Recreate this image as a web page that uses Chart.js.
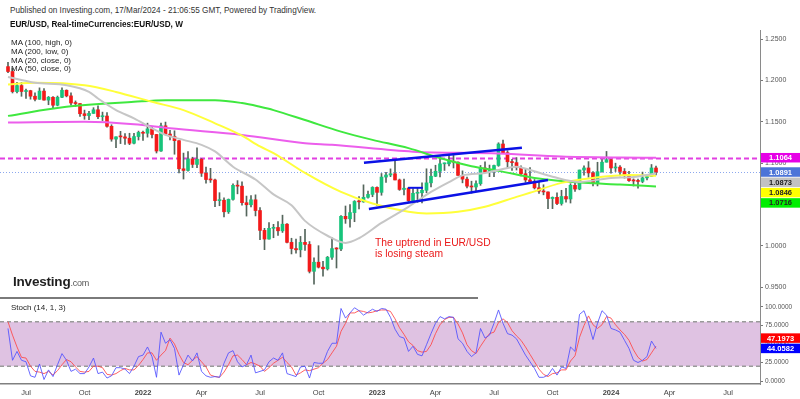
<!DOCTYPE html>
<html lang="en">
<head>
<meta charset="utf-8">
<title>EUR/USD weekly</title>
<script src="https://cdn.jsdelivr.net/npm/chart.js@4.4.1/dist/chart.umd.min.js"></script>
<style>
  html, body { margin: 0; padding: 0; background: #fff; }
  body { font-family: "Liberation Sans", Arial, sans-serif; }
  #page { position: relative; width: 800px; height: 399px; overflow: hidden; }
  canvas { position: absolute; left: 0; }
  #priceChart { top: 30px; }
  #stochChart { top: 298px; }
  .label { position: absolute; white-space: nowrap; z-index: 5; line-height: 1; color: #222; }
  .legend { font-size: 8px; line-height: 8.8px; }
  .note { font-size: 10.3px; line-height: 11px; color: #ea1a1a; }
  #divider { position: absolute; left: 0; top: 297px; width: 478px; height: 2px; background: #7a7a7a; z-index: 4; }
</style>
</head>
<body>
<div id="page">
  <canvas id="priceChart" width="800" height="268"></canvas>
  <canvas id="stochChart" width="800" height="101"></canvas>
  <div id="divider"></div>

  <div class="label" style="left:10px; top:7px; font-size:8.2px; color:#333;">Published on Investing.com, 17/Mar/2024 - 21:06:55 GMT, Powered by TradingView.</div>
  <div class="label" style="left:10px; top:20.5px; font-size:8.2px; font-weight:bold; color:#111;">EUR/USD, Real-timeCurrencies:EUR/USD, W</div>
  <div class="label legend" style="left:11px; top:39px;">MA (100, high, 0)<br>MA (200, low, 0)<br>MA (20, close, 0)<br>MA (50, close, 0)</div>
  <div class="label note" style="left:375px; top:236.5px;">The uptrend in EUR/USD<br>is losing steam</div>
  <div class="label" style="left:13px; top:275px; font-size:13.5px; font-weight:bold; color:#1e1e1e; letter-spacing:-0.2px;">Investing<span style="font-size:9px; font-weight:normal; color:#555;">.com</span></div>
  <div class="label" style="left:11px; top:304px; font-size:8px;">Stoch (14, 1, 3)</div>
</div>

<script>
// ============================= data (weekly candles, week 0 = 7 Jun 2021)

const firstWeek = '2021-06-07';

const open = [
  1.2166, 1.2107, 1.1864, 1.1937, 1.1865, 1.1875, 1.1808, 1.1771, 1.1870, 1.1761,
  1.1795, 1.1699, 1.1795, 1.1880, 1.1812, 1.1726, 1.1719, 1.1596, 1.1574, 1.1600,
  1.1644, 1.1560, 1.1568, 1.1444, 1.1289, 1.1317, 1.1316, 1.1300, 1.1239, 1.1320,
  1.1370, 1.1360, 1.1413, 1.1345, 1.1145, 1.1450, 1.1350, 1.1320, 1.1270, 1.0930,
  1.0910, 1.1050, 1.0983, 1.1046, 1.0877, 1.0800, 1.0795, 1.0545, 1.0550, 1.0410,
  1.0560, 1.0730, 1.0720, 1.0520, 1.0495, 1.0555, 1.0425, 1.0185, 1.0080, 1.0210,
  1.0220, 1.0180, 1.0260, 1.0040, 0.9965, 0.9950, 1.0040, 1.0015, 0.9690, 0.9800,
  0.9740, 0.9720, 0.9860, 0.9965, 0.9960, 1.0355, 1.0325, 1.0400, 1.0535, 1.0530,
  1.0585, 1.0620, 1.0705, 1.0645, 1.0830, 1.0855, 1.0870, 1.0795, 1.0680, 1.0695,
  1.0545, 1.0634, 1.0640, 1.0670, 1.0760, 1.0840, 1.0900, 1.0990, 1.0990, 1.1020,
  1.1010, 1.0850, 1.0805, 1.0720, 1.0710, 1.0750, 1.0940, 1.0890, 1.0910, 1.0970,
  1.1230, 1.1125, 1.1015, 1.1005, 1.0945, 1.0870, 1.0795, 1.0775, 1.0700, 1.0660,
  1.0650, 1.0570, 1.0585, 1.0510, 1.0595, 1.0565, 1.0730, 1.0685, 1.0915, 1.0940,
  1.0880, 1.0760, 1.0895, 1.1010, 1.1040, 1.0940, 1.0950, 1.0898, 1.0855, 1.0787,
  1.0783, 1.0777, 1.0820, 1.0838, 1.0940
];
const high = [
  1.2218, 1.2145, 1.1975, 1.1975, 1.1895, 1.1880, 1.1850, 1.1909, 1.1900, 1.1805,
  1.1805, 1.1810, 1.1909, 1.1885, 1.1850, 1.1751, 1.1720, 1.1640, 1.1624, 1.1669,
  1.1692, 1.1616, 1.1609, 1.1463, 1.1318, 1.1383, 1.1355, 1.1360, 1.1360, 1.1386,
  1.1385, 1.1482, 1.1436, 1.1347, 1.1483, 1.1495, 1.1395, 1.1390, 1.1272, 1.1120,
  1.1137, 1.1070, 1.1185, 1.1054, 1.0950, 1.0936, 1.0805, 1.0641, 1.0580, 1.0565,
  1.0748, 1.0787, 1.0773, 1.0600, 1.0606, 1.0615, 1.0460, 1.0210, 1.0278, 1.0258,
  1.0293, 1.0369, 1.0268, 1.0090, 1.0080, 1.0112, 1.0198, 1.0050, 0.9854, 1.0000,
  0.9810, 0.9870, 1.0094, 0.9976, 1.0365, 1.0480, 1.0497, 1.0545, 1.0595, 1.0736,
  1.0660, 1.0713, 1.0713, 1.0873, 1.0887, 1.0929, 1.1033, 1.0806, 1.0805, 1.0705,
  1.0692, 1.0700, 1.0760, 1.0930, 1.0926, 1.0973, 1.1076, 1.1000, 1.1095, 1.1092,
  1.1015, 1.0905, 1.0830, 1.0780, 1.0785, 1.0970, 1.1013, 1.0975, 1.0975, 1.1245,
  1.1276, 1.1149, 1.1045, 1.1065, 1.0965, 1.0930, 1.0945, 1.0800, 1.0770, 1.0737,
  1.0650, 1.0590, 1.0640, 1.0670, 1.0695, 1.0750, 1.0755, 1.0915, 1.0965, 1.1017,
  1.0895, 1.1009, 1.1040, 1.1140, 1.1045, 1.0998, 1.0970, 1.0933, 1.0898, 1.0808,
  1.0805, 1.0890, 1.0860, 1.0982, 1.0963
];
const low = [
  1.2093, 1.1847, 1.1848, 1.1807, 1.1782, 1.1772, 1.1752, 1.1770, 1.1760, 1.1705,
  1.1664, 1.1691, 1.1790, 1.1800, 1.1700, 1.1684, 1.1563, 1.1529, 1.1524, 1.1600,
  1.1535, 1.1513, 1.1432, 1.1263, 1.1186, 1.1235, 1.1226, 1.1222, 1.1230, 1.1278,
  1.1272, 1.1313, 1.1302, 1.1121, 1.1140, 1.1340, 1.1280, 1.1106, 1.0880, 1.0806,
  1.0900, 1.0945, 1.0945, 1.0837, 1.0757, 1.0765, 1.0472, 1.0483, 1.0349, 1.0390,
  1.0550, 1.0627, 1.0490, 1.0358, 1.0470, 1.0360, 1.0072, 0.9952, 1.0080, 1.0096,
  1.0123, 1.0160, 1.0034, 0.9900, 0.9910, 0.9864, 0.9944, 0.9670, 0.9535, 0.9730,
  0.9630, 0.9705, 0.9835, 0.9730, 0.9940, 1.0270, 1.0225, 1.0290, 1.0444, 1.0525,
  1.0575, 1.0592, 1.0483, 1.0610, 1.0766, 1.0835, 1.0794, 1.0669, 1.0613, 1.0533,
  1.0532, 1.0524, 1.0516, 1.0640, 1.0710, 1.0835, 1.0831, 1.0910, 1.0965, 1.0940,
  1.0850, 1.0760, 1.0700, 1.0635, 1.0665, 1.0730, 1.0890, 1.0835, 1.0835, 1.0960,
  1.1123, 1.0944, 1.0911, 1.0915, 1.0845, 1.0766, 1.0775, 1.0686, 1.0632, 1.0615,
  1.0448, 1.0448, 1.0495, 1.0490, 1.0525, 1.0516, 1.0655, 1.0676, 1.0852, 1.0828,
  1.0723, 1.0723, 1.0888, 1.1010, 1.0877, 1.0897, 1.0844, 1.0817, 1.0778, 1.0722,
  1.0695, 1.0761, 1.0796, 1.0835, 1.0855
];
const close = [
  1.2107, 1.1864, 1.1937, 1.1865, 1.1875, 1.1808, 1.1771, 1.1870, 1.1761, 1.1795,
  1.1699, 1.1795, 1.1880, 1.1812, 1.1726, 1.1719, 1.1596, 1.1574, 1.1600, 1.1644,
  1.1560, 1.1568, 1.1444, 1.1289, 1.1317, 1.1316, 1.1300, 1.1239, 1.1320, 1.1370,
  1.1360, 1.1413, 1.1345, 1.1145, 1.1450, 1.1350, 1.1320, 1.1270, 1.0930, 1.0910,
  1.1050, 1.0983, 1.1046, 1.0877, 1.0800, 1.0795, 1.0545, 1.0550, 1.0410, 1.0560,
  1.0730, 1.0720, 1.0520, 1.0495, 1.0555, 1.0425, 1.0185, 1.0080, 1.0210, 1.0220,
  1.0180, 1.0260, 1.0040, 0.9965, 0.9950, 1.0040, 1.0015, 0.9690, 0.9800, 0.9740,
  0.9720, 0.9860, 0.9965, 0.9960, 1.0355, 1.0325, 1.0400, 1.0535, 1.0530, 1.0585,
  1.0620, 1.0705, 1.0645, 1.0830, 1.0855, 1.0870, 1.0795, 1.0680, 1.0695, 1.0545,
  1.0634, 1.0640, 1.0670, 1.0760, 1.0840, 1.0900, 1.0990, 1.0990, 1.1020, 1.1010,
  1.0850, 1.0805, 1.0720, 1.0710, 1.0750, 1.0940, 1.0890, 1.0910, 1.0970, 1.1230,
  1.1125, 1.1015, 1.1005, 1.0945, 1.0870, 1.0795, 1.0775, 1.0700, 1.0660, 1.0650,
  1.0570, 1.0585, 1.0510, 1.0595, 1.0565, 1.0730, 1.0685, 1.0915, 1.0940, 1.0880,
  1.0760, 1.0895, 1.1010, 1.1040, 1.0940, 1.0950, 1.0898, 1.0855, 1.0787, 1.0783,
  1.0777, 1.0820, 1.0838, 1.0940, 1.0891
];

// moving averages as [week, value]
const ma20 = [[0,1.2040],[6,1.1970],[13,1.1940],[18,1.1860],[20,1.1780],[24,1.1640],[28,1.1540],
  [32,1.1420],[35,1.1340],[39,1.1280],[43,1.1220],[46,1.1140],[50,1.0955],[55,1.0800],[59,1.0620],
  [63,1.0490],[66,1.0300],[71,1.0120],[75,1.0033],[78,1.0090],[83,1.0275],[89,1.0470],[94,1.0650],
  [98,1.0770],[101,1.0850],[106,1.0880],[109,1.0915],[113,1.0955],[116,1.0915],[121,1.0834],
  [127,1.0770],[134,1.0820],[139,1.0830],[144,1.0873]];
const ma50 = [[0,1.1950],[6,1.1970],[17,1.1940],[24,1.1860],[32,1.1740],[39,1.1640],[46,1.1480],
  [52,1.1330],[56,1.1200],[59,1.1120],[66,1.0880],[74,1.0650],[81,1.0510],[89,1.0410],[93,1.0390],
  [100,1.0410],[106,1.0470],[113,1.0590],[116,1.0640],[123,1.0760],[130,1.0820],[138,1.0855],[144,1.0846]];
const ma100 = [[0,1.1570],[13,1.1680],[28,1.1740],[35,1.1760],[46,1.1760],[52,1.1725],[56,1.1680],
  [59,1.1640],[66,1.1520],[74,1.1380],[81,1.1280],[89,1.1180],[96,1.1060],[103,1.0960],[109,1.0905],
  [117,1.0820],[128,1.0760],[136,1.0740],[144,1.0716]];
const ma200 = [[0,1.1490],[17,1.1500],[28,1.1470],[36,1.1420],[52,1.1340],[66,1.1240],[72,1.1220],
  [90,1.1137],[109,1.1115],[123,1.1078],[136,1.1066],[144,1.1064]];

// hand-drawn trend lines as [week, price]
const upperTrend = [[79.1,1.1004],[114.2,1.1185]];
const lowerTrend = [[80.2,1.0444],[120,1.0794]];
const rangeTop = [[88.9,1.0700],[92.2,1.0700]];

// stochastic (14, 1, 3): %K and %D per week
const stochK = [
  71, 28, 40, 28, 26, 7, 5, 23, 2, 15,   6, 22, 37, 28, 13, 16, 10, 10, 19, 31,
  10, 12, 4, 7, 18, 18, 16, 10, 20, 33,  35, 46, 33, 5, 66, 51, 56, 44, 8, 22,
  35, 27, 38, 13, 7, 5, 6, 5, 24, 38,    41, 26, 19, 22, 35, 11, 13, 15, 26, 31,
  28, 38, 10, 8, 6, 19, 20, 4, 25, 24,   24, 40, 51, 51, 98, 85, 92, 99, 95, 89,
  93, 97, 94, 98, 97, 86, 70, 60, 58, 40, 47, 36, 34, 49, 64, 78, 87, 84, 87, 86,
  57, 51, 40, 33, 38, 71, 58, 62, 78, 96, 78, 64, 62, 57, 46, 35, 26, 17, 5, 5,
  8, 17, 8, 19, 17, 46, 40, 90, 95, 78,  56, 78, 95, 89, 71, 69, 66, 55, 44, 28,
  25, 28, 33, 54, 44.0582
];
const stochD = [
  80, 62, 46, 32, 31, 20, 13, 12, 10, 13, 8, 14, 22, 29, 26, 19, 13, 12, 13, 20,
  20, 18, 9, 8, 10, 14, 17, 15, 15, 21,  29, 38, 38, 28, 35, 41, 58, 50, 36, 25,
  22, 28, 33, 26, 19, 8, 6, 5, 12, 22,   34, 35, 29, 22, 25, 23, 20, 13, 18, 24,
  28, 32, 25, 19, 8, 11, 15, 14, 16, 18, 24, 29, 38, 47, 67, 78, 92, 92, 95, 94,
  92, 93, 95, 96, 96, 94, 84, 72, 63, 53, 48, 41, 39, 40, 49, 64, 76, 83, 86, 86,
  77, 65, 49, 41, 37, 47, 56, 64, 66, 79, 84, 79, 68, 61, 55, 46, 36, 26, 16, 9,
  6, 10, 11, 15, 15, 27, 34, 59, 75, 88, 76, 71, 76, 87, 85, 76, 69, 63, 55, 42,
  32, 27, 29, 38, 47.1973
];
const stochBand = [20, 80];

// axis ticks
const tickWeeks = [4, 17, 30, 43, 56, 69, 82, 95, 108, 121, 134, 147, 160];
const tickLabels = ['Jul', 'Oct', '2022', 'Apr', 'Jul', 'Oct', '2023', 'Apr', 'Jul', 'Oct', '2024', 'Apr', 'Jul'];
const priceTicks = [0.95, 1.00, 1.05, 1.10, 1.15, 1.20, 1.25];
const stochTicks = [0, 25, 50, 75, 100];


// ============================= layout helpers

const weekMin = -1.778, weekMax = 167.11;     // x range covered by the 760px plot
const font = '"Liberation Sans", Arial, sans-serif';

const toPoints = pairs => pairs.map(p => ({ x: p[0], y: p[1] }));
const perWeek = arr => arr.map((v, i) => ({ x: i, y: v }));

function fixedAxis(width) {
    return scale => {
        scale.width = width;
        scale.paddingTop = 0;
        scale.paddingBottom = 0;
    };
}

// coloured value boxes on the right axis, shuffled so they don't overlap
function valueTags(id, getValues, fills, inks, pushUp) {
    return {
        id: id,
        afterDraw(chart) {
            const { ctx, chartArea: a, scales: { y } } = chart;
            const values = getValues();
            const h = 9.5, step = 10.3;
            const items = values.map((v, i) => ({ v: v, i: i, py: y.getPixelForValue(v) }));
            items.sort((p, q) => pushUp ? q.py - p.py : p.py - q.py);
            for (let k = 1; k < items.length; k++) {
                const prev = items[k - 1].py;
                if (!pushUp && items[k].py < prev + step) items[k].py = prev + step;
                if (pushUp && items[k].py > prev - step) items[k].py = prev - step;
            }
            ctx.save();
            ctx.font = 'bold 7.5px ' + font;
            ctx.textAlign = 'center';
            ctx.textBaseline = 'middle';
            items.forEach(it => {
                ctx.fillStyle = fills[it.i];
                ctx.fillRect(a.right + 1, it.py - h / 2, 39, h);
                ctx.fillStyle = inks[it.i];
                ctx.fillText(it.v.toFixed(4), a.right + 20.5, it.py + 0.5);
            });
            ctx.restore();
        }
    };
}


// ============================= price chart

const upColor = '#17c47b', downColor = '#f31a1a', wickColor = '#55665c';
const bodyColors = close.map((c, i) => c >= open[i] ? upColor : downColor);

const levelLines = {
    id: 'levelLines',
    beforeDatasetsDraw(chart) {
        const { ctx, chartArea: a, scales: { y } } = chart;
        const lines = [
            { v: ma200[ma200.length - 1][1], color: '#e23fe2', width: 2, dash: [5, 3] },
            { v: close[close.length - 1], color: '#8ca8ee', width: 1, dash: [1, 2] }
        ];
        ctx.save();
        lines.forEach(l => {
            const py = Math.round(y.getPixelForValue(l.v)) + 0.5;
            ctx.strokeStyle = l.color;
            ctx.lineWidth = l.width;
            ctx.setLineDash(l.dash);
            ctx.beginPath();
            ctx.moveTo(a.left, py);
            ctx.lineTo(a.right, py);
            ctx.stroke();
        });
        ctx.restore();
    }
};

const priceTags = valueTags('priceTags',
    () => [ma200[ma200.length - 1][1], close[close.length - 1], ma20[ma20.length - 1][1],
           ma50[ma50.length - 1][1], ma100[ma100.length - 1][1]],
    ['#e600e6', '#4c74d8', '#c2c2c2', '#ffff00', '#00ee00'],
    ['#ffffff', '#ffffff', '#222222', '#222222', '#222222'],
    false);

function maLine(pairs, color) {
    return {
        type: 'line', data: toPoints(pairs), borderColor: color, borderWidth: 2,
        pointRadius: 0, cubicInterpolationMode: 'monotone'
    };
}
function trendLine(pairs, width) {
    return { type: 'line', data: toPoints(pairs), borderColor: '#0b12e6', borderWidth: width, pointRadius: 0 };
}

const priceCtx = document.getElementById('priceChart').getContext('2d');
const priceChart = new Chart(priceCtx, {
    type: 'bar',
    data: {
        datasets: [
            trendLine(upperTrend, 2.5),
            trendLine(lowerTrend, 2.5),
            trendLine(rangeTop, 2),
            maLine(ma20, '#c6c6c6'),
            maLine(ma50, '#ffff3a'),
            maLine(ma100, '#3fe83f'),
            maLine(ma200, '#ec5eec'),
            {
                type: 'bar',
                data: close.map((c, i) => ({ x: i, y: [open[i], c] })),
                backgroundColor: bodyColors,
                barThickness: 3, grouped: false, minBarLength: 1
            },
            {
                type: 'bar',
                data: high.map((h, i) => ({ x: i, y: [low[i], h] })),
                backgroundColor: wickColor,
                barThickness: 1, grouped: false
            }
        ]
    },
    options: {
        responsive: false,
        animation: false,
        layout: { padding: 0 },
        plugins: { legend: { display: false }, tooltip: { enabled: false } },
        scales: {
            x: { type: 'linear', min: weekMin, max: weekMax, offset: false, display: false },
            y: {
                type: 'linear', position: 'right', min: 0.93671, max: 1.26089,
                afterFit: fixedAxis(40),
                afterBuildTicks: scale => { scale.ticks = priceTicks.map(v => ({ value: v })); },
                ticks: {
                    callback: v => Number(v).toFixed(4),
                    font: { family: font, size: 7 }, color: '#555', padding: 2
                },
                grid: { drawOnChartArea: false, tickLength: 3, color: '#777' },
                border: { display: true, color: '#8a8a8a', width: 1 }
            }
        }
    },
    plugins: [levelLines, priceTags]
});


// ============================= stochastic panel

const bandPlugin = {
    id: 'bandPlugin',
    beforeDatasetsDraw(chart) {
        const { ctx, chartArea: a, scales: { y } } = chart;
        const top = y.getPixelForValue(stochBand[1]);
        const bot = y.getPixelForValue(stochBand[0]);
        ctx.save();
        ctx.fillStyle = '#dfc2e2';
        ctx.fillRect(a.left, top, a.right - a.left, bot - top);
        ctx.strokeStyle = '#9a9a9a';
        ctx.lineWidth = 1.5;
        ctx.setLineDash([4, 3]);
        [top, bot].forEach(py => {
            ctx.beginPath();
            ctx.moveTo(a.left, py);
            ctx.lineTo(a.right, py);
            ctx.stroke();
        });
        ctx.restore();
    }
};

const stochTags = valueTags('stochTags',
    () => [stochD[stochD.length - 1], stochK[stochK.length - 1]],
    ['#ff0000', '#0000ff'],
    ['#ffffff', '#ffffff'],
    true);

const stochCtx = document.getElementById('stochChart').getContext('2d');
const stochChart = new Chart(stochCtx, {
    type: 'line',
    data: {
        datasets: [
            { data: perWeek(stochK), borderColor: 'rgba(80,80,255,0.85)', borderWidth: 1, pointRadius: 0 },
            { data: perWeek(stochD), borderColor: 'rgba(255,70,70,0.85)', borderWidth: 1, pointRadius: 0 }
        ]
    },
    options: {
        responsive: false,
        animation: false,
        layout: { padding: 0 },
        plugins: { legend: { display: false }, tooltip: { enabled: false } },
        scales: {
            x: {
                type: 'linear', min: weekMin, max: weekMax, offset: false,
                afterFit: scale => { scale.height = 15; scale.paddingLeft = 0; scale.paddingRight = 0; },
                afterBuildTicks: scale => { scale.ticks = tickWeeks.map(v => ({ value: v })); },
                ticks: {
                    autoSkip: false, maxRotation: 0, padding: 4, color: '#444',
                    callback: (v, i) => tickLabels[i],
                    font: c => ({ family: font, size: 7.5, weight: /^\d{4}$/.test(c.tick && c.tick.label) ? 'bold' : 'normal' })
                },
                grid: { display: false, drawTicks: false },
                border: { display: true, color: '#808080', width: 1.5 }
            },
            y: {
                type: 'linear', position: 'right', min: -4.05, max: 112.16,
                afterFit: fixedAxis(40),
                afterBuildTicks: scale => { scale.ticks = stochTicks.map(v => ({ value: v })); },
                ticks: {
                    callback: v => Number(v).toFixed(4),
                    font: { family: font, size: 6.5 }, color: '#555', padding: 2
                },
                grid: { drawOnChartArea: false, tickLength: 3, color: '#777' },
                border: { display: true, color: '#8a8a8a', width: 1 }
            }
        }
    },
    plugins: [bandPlugin, stochTags]
});
</script>
</body>
</html>
